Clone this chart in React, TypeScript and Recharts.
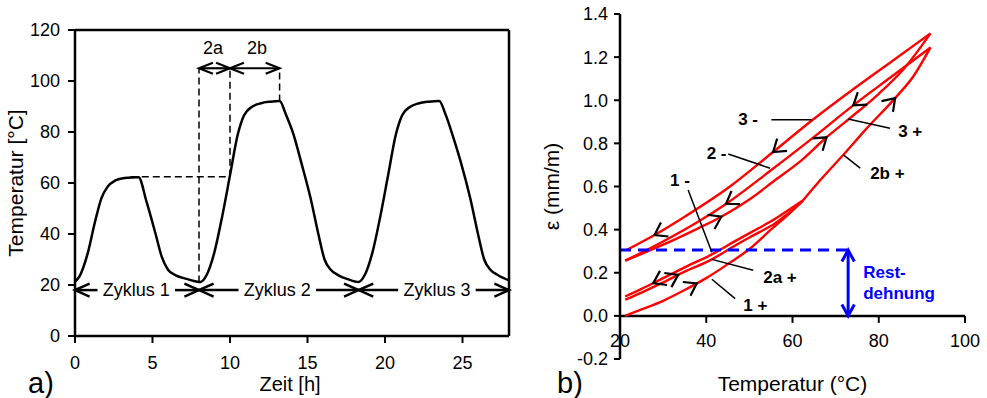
import React from "react";
import {
  ComposedChart,
  Line,
  Scatter,
  XAxis,
  YAxis,
  ReferenceLine,
  ReferenceDot,
  Label,
} from "recharts";

const FONT = '"Liberation Sans", Arial, Helvetica, sans-serif';

// ---------- a) Temperaturverlauf ----------
const zeit = [
  0, 0.3, 0.8, 1.3, 1.7, 2.1, 2.6, 3.2, 4.1,
  4.6, 5.2, 5.6, 6.0, 6.5, 7.2, 7.9,
  8.1, 8.5, 9.0, 9.5, 10.0, 10.5, 10.9, 11.4, 12.0, 12.6, 13.2,
  13.6, 14.1, 14.6, 15.2, 15.7, 16.1, 16.5, 17.0, 17.6, 18.3,
  18.7, 19.2, 19.7, 20.2, 20.7, 21.1, 21.6, 22.2, 22.8, 23.5,
  23.9, 24.4, 24.9, 25.5, 26.0, 26.4, 26.8, 27.3, 28,
];
const temperatur = [
  21.3, 23.5, 32, 45, 54, 58.5, 61, 62, 62.3,
  53, 40, 31, 26, 23.8, 22.4, 21.3,
  21.2, 24, 33, 47, 63, 79, 86.5, 89.8, 91.3, 91.9, 92.2,
  87, 79, 68, 54, 40, 30, 26, 23.8, 22.3, 21.2,
  24, 33, 47, 63, 79, 86.5, 89.8, 91.3, 91.9, 92.2,
  87, 78, 68, 54, 40, 30, 26, 23.8, 21.8,
];
const zeitTicks = [0, 5, 10, 15, 20, 25];
const tempTicks = [0, 20, 40, 60, 80, 100, 120];

const zyklusGrenzen = [0, 8, 18.3, 28];
const zyklusNamen = ["Zyklus 1", "Zyklus 2", "Zyklus 3"];
const zyklusTextX = [3.95, 13.05, 23.35];
const zyklusY = 18;

const phasenGrenzen = [8, 10, 13.2];
const phasenNamen = ["2a", "2b"];
const phasenTextX = [8.9, 11.75];
const phasenY = 105;
const phasenTextY = 113;
const maxZyklus1 = 62.5;
const maxZyklus2 = 92;
const plateauStart = 3.6;
const minZyklus1 = 21;

// ---------- b) Dehnung über Temperatur ----------
const t1p = [21.2, 25, 30, 35, 40, 45, 50, 55, 59, 62.4];
const e1p = [0, 0.03, 0.07, 0.12, 0.175, 0.24, 0.31, 0.4, 0.47, 0.535];
const t1m = [21.2, 25, 30, 35, 41.3, 47, 52, 56, 59, 62.4];
const e1m = [0.09, 0.125, 0.175, 0.225, 0.285, 0.35, 0.405, 0.45, 0.49, 0.535];
const t2ap = [21.2, 25, 30, 35, 41.3, 47, 52, 56, 59, 62.4];
const e2ap = [0.075, 0.108, 0.155, 0.205, 0.262, 0.33, 0.385, 0.43, 0.475, 0.535];
const t2bp = [62.4, 66, 71.8, 77, 83.8, 88, 92];
const e2bp = [0.535, 0.62, 0.747, 0.865, 1.01, 1.11, 1.245];
const t2m = [21.2, 30, 38, 45, 55, 65, 74, 83, 92];
const e2m = [0.256, 0.345, 0.435, 0.525, 0.675, 0.83, 0.975, 1.11, 1.245];
const t3p = [21.2, 30, 38, 43.5, 50, 56, 62, 67.7, 72.9, 80, 86, 92];
const e3p = [0.256, 0.33, 0.405, 0.46, 0.54, 0.63, 0.72, 0.825, 0.91, 1.03, 1.15, 1.31];
const t3m = [21.5, 28, 35, 45.5, 55.5, 64.4, 74, 83, 92];
const e3m = [0.305, 0.375, 0.46, 0.6, 0.76, 0.905, 1.05, 1.18, 1.31];

const kurven: Record<string, [number[], number[]]> = {
  "1+": [t1p, e1p],
  "1-": [t1m, e1m],
  "2a+": [t2ap, e2ap],
  "2b+": [t2bp, e2bp],
  "2-": [t2m, e2m],
  "3+": [t3p, e3p],
  "3-": [t3m, e3m],
};

const tempTicksB = [20, 40, 60, 80, 100];
const dehnTicks = [-0.2, 0, 0.2, 0.4, 0.6, 0.8, 1.0, 1.2, 1.4];

// Pfeile auf den Kurven: Kurve, Temperatur, Richtung (+1 heizen, -1 kühlen)
const pfeilKurve = ["3-", "3-", "2-", "2-", "3+", "3+", "2b+", "1+", "1-", "2a+"];
const pfeilT = [55.5, 28, 74.1, 44.6, 67.9, 43.5, 83.8, 37.8, 27.7, 33.5];
const pfeilRichtung = [-1, -1, -1, -1, 1, 1, 1, 1, -1, 1];

// Beschriftungen mit Hinweislinien
const labelText = ["3 -", "2 -", "1 -", "2a +", "1 +", "3 +", "2b +"];
const labelT = [47.4, 40.1, 31.6, 53.2, 48.6, 84.5, 78];
const labelE = [0.909, 0.752, 0.628, 0.18, 0.049, 0.856, 0.662];
const leiterVon = [[55.1, 0.909], [45.1, 0.751], [35.8, 0.584], [50.9, 0.212], [46.7, 0.08], [82.6, 0.87], [75.7, 0.685]];
const leiterBis = [[64.4, 0.909], [54.8, 0.685], [41.3, 0.295], [41.3, 0.262], [41.3, 0.17], [72.9, 0.913], [71.8, 0.747]];

const restDehnung = 0.305;
const restPfeilT = 72.9;
const restTextT = 76.4;
const restTextE = [0.203, 0.103];
const restText = ["Rest-", "dehnung"];

// ---------- helpers ----------
function Chevron(props: {
  cx: number;
  cy: number;
  ang: number;
  len?: number;
  spread?: number;
  color?: string;
  width?: number;
}) {
  const { cx, cy, ang, len = 12, spread = 0.6, color = "#000", width = 2 } = props;
  const a1 = ang + Math.PI - spread;
  const a2 = ang + Math.PI + spread;
  const d = `M${cx + len * Math.cos(a1)},${cy + len * Math.sin(a1)}L${cx},${cy}L${cx + len * Math.cos(a2)},${cy + len * Math.sin(a2)}`;
  return <path d={d} fill="none" stroke={color} strokeWidth={width} strokeLinecap="butt" />;
}

function interp(ts: number[], es: number[], t: number) {
  for (let i = 0; i < ts.length - 1; i++) {
    if (t >= ts[i] && t <= ts[i + 1]) {
      const s = (es[i + 1] - es[i]) / (ts[i + 1] - ts[i]);
      return { e: es[i] + (t - ts[i]) * s, s };
    }
  }
  return { e: es[es.length - 1], s: 0 };
}

const axisStyle = { stroke: "#000", strokeWidth: 2.5 };
const tickStyle = { stroke: "#000", strokeWidth: 2 };
const tickFont = { fill: "#000", fontSize: 18 };

// ---------- left chart ----------
const L = { w: 540, h: 398, top: 30, right: 31, yW: 75, xH: 62 };
const tempData = zeit.map((h, i) => ({ h, temp: temperatur[i] }));
const gapH = 2.5;

function TempChart() {
  const dash = "7 4";
  return (
    <ComposedChart width={L.w} height={L.h} margin={{ top: L.top, right: L.right, bottom: 0, left: 0 }}>
      <XAxis
        type="number"
        dataKey="h"
        domain={[0, 28]}
        ticks={zeitTicks}
        interval={0}
        height={L.xH}
        tickSize={7}
        tickMargin={13}
        tick={tickFont}
        axisLine={axisStyle}
        tickLine={tickStyle}
      >
        <Label
          content={(p: any) => {
            const vb = p.viewBox || { x: 75, y: 336, width: 434, height: 62 };
            return (
              <g>
                <text x={vb.x + vb.width / 2 - 2} y={391} textAnchor="middle" fontSize={20} fill="#000">
                  Zeit [h]
                </text>
                <text x={28} y={393} fontSize={29} fill="#000">
                  a)
                </text>
              </g>
            );
          }}
        />
      </XAxis>
      <YAxis
        type="number"
        domain={[0, 120]}
        ticks={tempTicks}
        interval={0}
        width={L.yW}
        tickSize={7}
        tickMargin={8}
        tick={tickFont}
        axisLine={axisStyle}
        tickLine={tickStyle}
      >
        <Label
          content={(p: any) => {
            const vb = p.viewBox || { x: 0, y: 30, width: 75, height: 306 };
            const cy = vb.y + vb.height / 2;
            return (
              <text x={22.5} y={cy} transform={`rotate(-90, 22.5, ${cy})`} textAnchor="middle" fontSize={21} fill="#000">
                Temperatur [°C]
              </text>
            );
          }}
        />
      </YAxis>

      <ReferenceLine y={120} stroke="#000" strokeWidth={2.5} />
      <ReferenceLine x={28} stroke="#000" strokeWidth={2.5} />

      {/* Hilfslinien 2a / 2b */}
      <ReferenceLine segment={[{ x: plateauStart, y: maxZyklus1 }, { x: phasenGrenzen[1], y: maxZyklus1 }]} stroke="#000" strokeWidth={1.5} strokeDasharray={dash} />
      <ReferenceLine segment={[{ x: phasenGrenzen[0], y: minZyklus1 }, { x: phasenGrenzen[0], y: phasenY }]} stroke="#000" strokeWidth={1.5} strokeDasharray={dash} />
      <ReferenceLine segment={[{ x: phasenGrenzen[1], y: maxZyklus1 }, { x: phasenGrenzen[1], y: phasenY }]} stroke="#000" strokeWidth={1.5} strokeDasharray={dash} />
      <ReferenceLine segment={[{ x: phasenGrenzen[2], y: maxZyklus2 }, { x: phasenGrenzen[2], y: phasenY }]} stroke="#000" strokeWidth={1.5} strokeDasharray={dash} />

      {/* Pfeile 2a / 2b */}
      {phasenNamen.map((n, i) => (
        <ReferenceLine
          key={"pl" + n}
          segment={[{ x: phasenGrenzen[i], y: phasenY }, { x: phasenGrenzen[i + 1], y: phasenY }]}
          stroke="#000"
          strokeWidth={2.2}
        />
      ))}
      {phasenNamen.map((n, i) => (
        <ReferenceDot
          key={"pa" + n}
          x={phasenGrenzen[i]}
          y={phasenY}
          shape={(p: any) => <Chevron cx={p.cx} cy={p.cy} ang={Math.PI} len={15} spread={0.38} width={2.2} />}
        />
      ))}
      {phasenNamen.map((n, i) => (
        <ReferenceDot
          key={"pb" + n}
          x={phasenGrenzen[i + 1]}
          y={phasenY}
          shape={(p: any) => <Chevron cx={p.cx} cy={p.cy} ang={0} len={15} spread={0.38} width={2.2} />}
        />
      ))}
      {phasenNamen.map((n, i) => (
        <ReferenceDot
          key={"pt" + n}
          x={phasenTextX[i]}
          y={phasenTextY}
          shape={(p: any) => (
            <text x={p.cx} y={p.cy} textAnchor="middle" dominantBaseline="central" fontSize={18} fill="#000">
              {n}
            </text>
          )}
        />
      ))}

      {/* Zyklus-Pfeile */}
      {zyklusNamen.map((n, i) => (
        <ReferenceLine
          key={"zl1" + i}
          segment={[{ x: zyklusGrenzen[i], y: zyklusY }, { x: zyklusTextX[i] - gapH, y: zyklusY }]}
          stroke="#000"
          strokeWidth={2.5}
        />
      ))}
      {zyklusNamen.map((n, i) => (
        <ReferenceLine
          key={"zl2" + i}
          segment={[{ x: zyklusTextX[i] + gapH, y: zyklusY }, { x: zyklusGrenzen[i + 1], y: zyklusY }]}
          stroke="#000"
          strokeWidth={2.5}
        />
      ))}
      {zyklusNamen.map((n, i) => (
        <ReferenceDot
          key={"za" + i}
          x={zyklusGrenzen[i]}
          y={zyklusY}
          shape={(p: any) => <Chevron cx={p.cx} cy={p.cy} ang={Math.PI} len={16} spread={0.42} width={2.5} />}
        />
      ))}
      {zyklusNamen.map((n, i) => (
        <ReferenceDot
          key={"zb" + i}
          x={zyklusGrenzen[i + 1]}
          y={zyklusY}
          shape={(p: any) => <Chevron cx={p.cx} cy={p.cy} ang={0} len={16} spread={0.42} width={2.5} />}
        />
      ))}
      {zyklusNamen.map((n, i) => (
        <ReferenceDot
          key={"zt" + i}
          x={zyklusTextX[i]}
          y={zyklusY}
          shape={(p: any) => (
            <text x={p.cx} y={p.cy} textAnchor="middle" dominantBaseline="central" fontSize={18} fill="#000">
              {n}
            </text>
          )}
        />
      ))}

      <Line
        data={tempData}
        dataKey="temp"
        type="monotone"
        stroke="#000"
        strokeWidth={2.5}
        dot={false}
        activeDot={false}
        isAnimationActive={false}
      />
    </ComposedChart>
  );
}

// ---------- right chart ----------
const R = { w: 447, h: 398, top: 14, right: 22, yW: 80, xH: 39 };
const plotW = R.w - R.yW - R.right;
const plotH = R.h - R.top - R.xH;
const kx = plotW / 80;
const ky = plotH / 1.6;

const pfeilDaten = pfeilT.map((t, i) => {
  const [ts, es] = kurven[pfeilKurve[i]];
  const { e, s } = interp(ts, es, t);
  const dir = pfeilRichtung[i];
  return { T: t, e, ang: Math.atan2(-dir * s * ky, dir * kx) };
});

function DehnungChart() {
  const red = "#ff0000";
  const blue = "#0000ff";
  return (
    <ComposedChart width={R.w} height={R.h} margin={{ top: R.top, right: R.right, bottom: 0, left: 0 }}>
      <XAxis
        type="number"
        dataKey="T"
        domain={[20, 100]}
        ticks={tempTicksB}
        height={R.xH}
        axisLine={false}
        tickLine={false}
        tick={false}
      >
        <Label
          content={(p: any) => {
            const vb = p.viewBox || { x: 80, y: 359, width: 345, height: 39 };
            return (
              <g>
                <text x={vb.x + vb.width / 2} y={391} textAnchor="middle" fontSize={21} fill="#000">
                  Temperatur (°C)
                </text>
                <text x={17} y={393} fontSize={29} fill="#000">
                  b)
                </text>
              </g>
            );
          }}
        />
      </XAxis>
      <YAxis
        type="number"
        domain={[-0.2, 1.4]}
        ticks={dehnTicks}
        interval={0}
        width={R.yW}
        tickSize={6}
        tickMargin={6}
        tick={tickFont}
        tickFormatter={(v: number) => v.toFixed(1)}
        axisLine={axisStyle}
        tickLine={tickStyle}
      >
        <Label
          content={(p: any) => {
            const vb = p.viewBox || { x: 0, y: 14, width: 80, height: 345 };
            const cy = vb.y + vb.height / 2;
            return (
              <text x={18.6} y={cy} transform={`rotate(-90, 18.6, ${cy})`} textAnchor="middle" fontSize={21} fill="#000">
                ε (mm/m)
              </text>
            );
          }}
        />
      </YAxis>

      {/* x-Achse bei ε = 0 */}
      <ReferenceLine segment={[{ x: 20, y: 0 }, { x: 100, y: 0 }]} stroke="#000" strokeWidth={2.5} />
      {tempTicksB.map((t) => (
        <ReferenceDot
          key={"xt" + t}
          x={t}
          y={0}
          shape={(p: any) => (
            <g>
              <line x1={p.cx} y1={p.cy} x2={p.cx} y2={p.cy + 7} stroke="#000" strokeWidth={2} />
              <text x={p.cx} y={p.cy + 25} textAnchor="middle" dominantBaseline="central" fontSize={18} fill="#000">
                {t}
              </text>
            </g>
          )}
        />
      ))}

      {Object.keys(kurven).map((k) => {
        const [ts, es] = kurven[k];
        const d = ts.map((t, i) => ({ T: t, e: es[i] }));
        return (
          <Line
            key={k}
            data={d}
            dataKey="e"
            type="monotone"
            stroke={red}
            strokeWidth={2.4}
            dot={false}
            activeDot={false}
            isAnimationActive={false}
          />
        );
      })}

      {/* Restdehnung */}
      <ReferenceLine segment={[{ x: 20, y: restDehnung }, { x: restPfeilT, y: restDehnung }]} stroke={blue} strokeWidth={3} strokeDasharray="11 7" />
      <ReferenceLine segment={[{ x: restPfeilT, y: 0 }, { x: restPfeilT, y: restDehnung }]} stroke={blue} strokeWidth={3} />
      <ReferenceDot
        x={restPfeilT}
        y={restDehnung}
        shape={(p: any) => <Chevron cx={p.cx} cy={p.cy} ang={-Math.PI / 2} len={13} spread={0.5} color={blue} width={3} />}
      />
      <ReferenceDot
        x={restPfeilT}
        y={0}
        shape={(p: any) => <Chevron cx={p.cx} cy={p.cy} ang={Math.PI / 2} len={13} spread={0.5} color={blue} width={3} />}
      />
      {restText.map((s, i) => (
        <ReferenceDot
          key={"rt" + i}
          x={restTextT}
          y={restTextE[i]}
          shape={(p: any) => (
            <text x={p.cx} y={p.cy} dominantBaseline="central" fontSize={17} fontWeight="bold" fill={blue}>
              {s}
            </text>
          )}
        />
      ))}

      {/* Hinweislinien und Beschriftung */}
      {labelText.map((s, i) => (
        <ReferenceLine
          key={"ll" + i}
          segment={[{ x: leiterVon[i][0], y: leiterVon[i][1] }, { x: leiterBis[i][0], y: leiterBis[i][1] }]}
          stroke="#000"
          strokeWidth={1.5}
        />
      ))}
      {labelText.map((s, i) => (
        <ReferenceDot
          key={"lt" + i}
          x={labelT[i]}
          y={labelE[i]}
          shape={(p: any) => (
            <text x={p.cx} y={p.cy} dominantBaseline="central" fontSize={17} fontWeight="bold" fill="#000">
              {s}
            </text>
          )}
        />
      ))}

      <Scatter
        data={pfeilDaten}
        dataKey="e"
        isAnimationActive={false}
        shape={(p: any) => <Chevron cx={p.cx} cy={p.cy} ang={p.payload.ang} len={14} spread={0.6} width={2.2} />}
      />
    </ComposedChart>
  );
}

export default function App() {
  return (
    <div
      style={{
        position: "absolute",
        left: 0,
        top: 0,
        width: 987,
        height: 398,
        background: "#fff",
        fontFamily: FONT,
      }}
    >
      <div style={{ position: "absolute", left: 0, top: 0 }}>
        <TempChart />
      </div>
      <div style={{ position: "absolute", left: 540, top: 0 }}>
        <DehnungChart />
      </div>
    </div>
  );
}
